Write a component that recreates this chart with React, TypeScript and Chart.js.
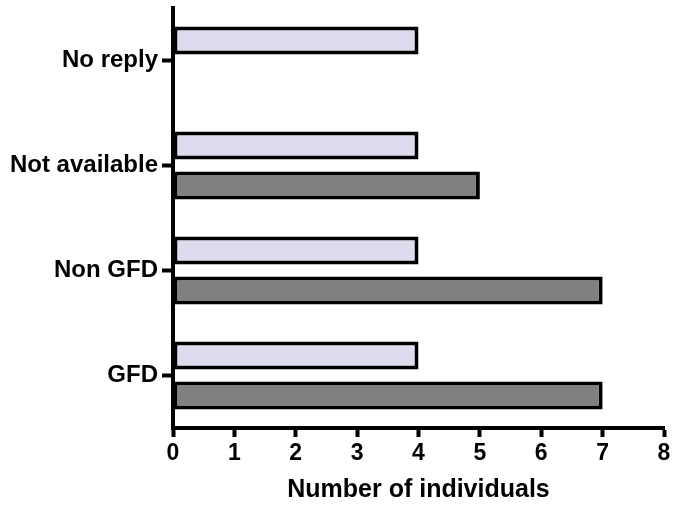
import React, { useEffect, useRef } from "react";
import { Chart, registerables } from "chart.js";

Chart.register(...registerables);

const categories = ["No reply", "Not available", "Non GFD", "GFD"];
const seriesLight = [4, 4, 4, 4];
const seriesDark = [null, 5, 7, 7];
const xMin = 0;
const xMax = 8;
const xStep = 1;
const xTitle = "Number of individuals";

const FONT = "'Liberation Sans', Arial, sans-serif";

export default function App() {
  const ref = useRef<HTMLCanvasElement | null>(null);

  useEffect(() => {
    if (!ref.current) return;
    const chart = new Chart(ref.current, {
      type: "bar",
      data: {
        labels: categories,
        datasets: [
          {
            label: "A",
            data: seriesLight,
            backgroundColor: "#dcdcee",
            borderColor: "#000",
            borderWidth: 4,
            borderSkipped: false,
          },
          {
            label: "B",
            data: seriesDark as any,
            backgroundColor: "#808080",
            borderColor: "#000",
            borderWidth: 4,
            borderSkipped: false,
          },
        ],
      },
      options: {
        indexAxis: "y",
        animation: false,
        responsive: true,
        maintainAspectRatio: false,
        barPercentage: 0.7,
        categoryPercentage: 0.76,
        layout: { padding: { top: 8, right: 13, left: 0, bottom: 0 } },
        plugins: { legend: { display: false }, tooltip: { enabled: false } },
        scales: {
          x: {
            min: xMin,
            max: xMax,
            ticks: {
              stepSize: xStep,
              color: "#000",
              padding: 3,
              font: { family: FONT, weight: "bold", size: 23 },
            },
            grid: {
              drawOnChartArea: false,
              drawTicks: true,
              tickLength: 9,
              tickWidth: 4,
              color: "#000",
            },
            border: { display: true, width: 4, color: "#000" },
            title: {
              display: true,
              text: xTitle,
              color: "#000",
              font: { family: FONT, weight: "bold", size: 25 },
              padding: { top: 4, bottom: 0 },
            },
            afterFit: (s: any) => {
              s.height = 77;
              s.paddingLeft = 0;
              s.paddingRight = 0;
            },
          },
          y: {
            offset: true,
            ticks: {
              color: "#000",
              padding: 4,
              font: { family: FONT, weight: "bold", size: 24 },
            },
            grid: {
              offset: false,
              drawOnChartArea: false,
              drawTicks: true,
              tickLength: 11,
              tickWidth: 4,
              color: "#000",
            },
            border: { display: true, width: 4, color: "#000" },
            afterFit: (s: any) => {
              s.width = 173;
              s.paddingTop = 0;
              s.paddingBottom = 0;
            },
          },
        },
      } as any,
    });
    return () => chart.destroy();
  }, []);

  return (
    <div style={{ position: "absolute", left: 0, top: 0, width: 677, height: 505, background: "#fff" }}>
      <canvas ref={ref} />
    </div>
  );
}
